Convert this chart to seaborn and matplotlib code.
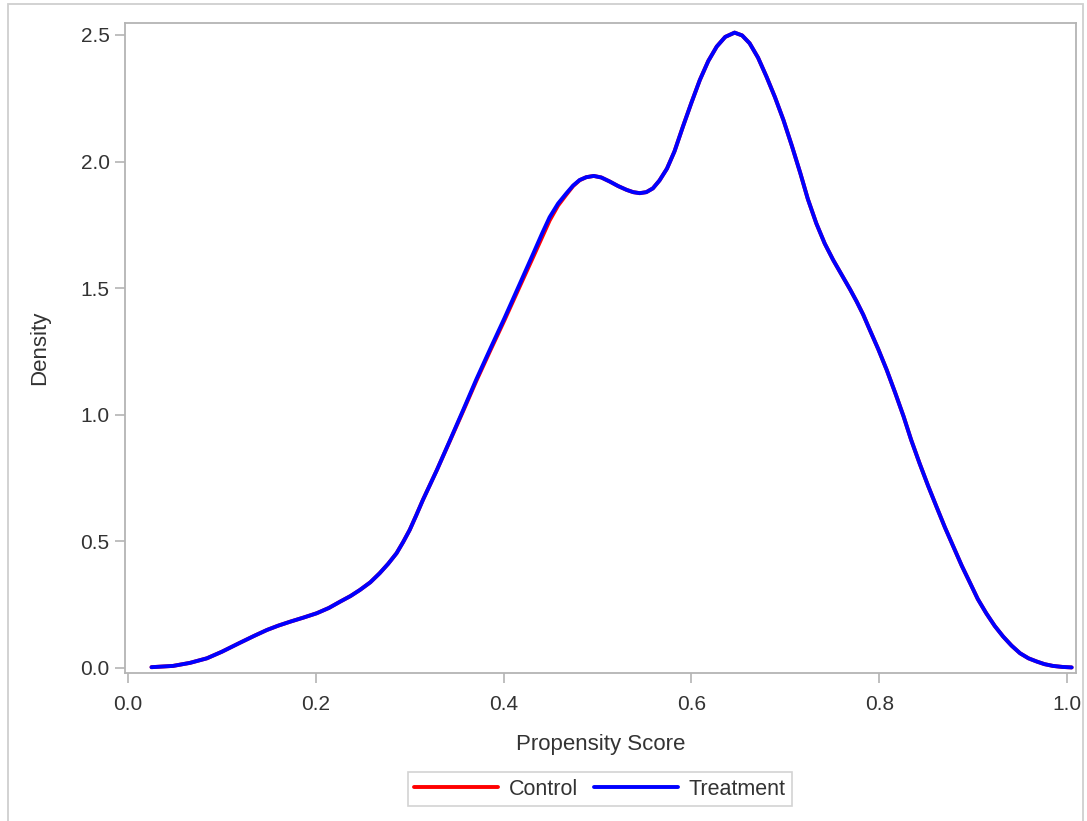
import matplotlib
matplotlib.use("Agg")
import matplotlib.pyplot as plt
import seaborn as sns
import pandas as pd
from matplotlib.patches import Rectangle
from matplotlib.lines import Line2D

# ---- data (kernel density curves) ----
treat_x = [0.025, 0.048, 0.066, 0.084, 0.100, 0.119, 0.134, 0.148, 0.160, 0.173,
           0.187, 0.201, 0.214, 0.226, 0.237, 0.247, 0.258, 0.268, 0.277, 0.286,
           0.293, 0.300, 0.307, 0.314, 0.329, 0.343, 0.357, 0.371, 0.386, 0.401,
           0.417, 0.432, 0.441, 0.449, 0.458, 0.467, 0.474, 0.481, 0.488, 0.496,
           0.504, 0.513, 0.522, 0.531, 0.538, 0.545, 0.552, 0.559, 0.566, 0.574,
           0.582, 0.591, 0.600, 0.609, 0.618, 0.627, 0.636, 0.646, 0.654, 0.662,
           0.671, 0.680, 0.689, 0.698, 0.707, 0.716, 0.724, 0.733, 0.742, 0.751,
           0.760, 0.769, 0.776, 0.783, 0.790, 0.799, 0.808, 0.817, 0.826, 0.834,
           0.843, 0.852, 0.861, 0.870, 0.879, 0.888, 0.897, 0.905, 0.914, 0.923,
           0.932, 0.941, 0.950, 0.959, 0.968, 0.976, 0.985, 0.995, 1.005]
treat_y = [0.003, 0.008, 0.020, 0.038, 0.064, 0.099, 0.126, 0.150, 0.167, 0.183,
           0.199, 0.216, 0.237, 0.262, 0.284, 0.308, 0.338, 0.374, 0.411, 0.453,
           0.497, 0.545, 0.603, 0.663, 0.782, 0.900, 1.019, 1.140, 1.262, 1.382,
           1.515, 1.640, 1.716, 1.780, 1.834, 1.875, 1.905, 1.927, 1.938, 1.943,
           1.937, 1.921, 1.903, 1.888, 1.879, 1.875, 1.879, 1.894, 1.925, 1.972,
           2.040, 2.138, 2.232, 2.322, 2.397, 2.454, 2.492, 2.509, 2.498, 2.467,
           2.410, 2.335, 2.254, 2.164, 2.062, 1.954, 1.852, 1.756, 1.676, 1.611,
           1.553, 1.495, 1.447, 1.395, 1.335, 1.259, 1.177, 1.087, 0.993, 0.901,
           0.808, 0.720, 0.637, 0.555, 0.479, 0.403, 0.334, 0.272, 0.216, 0.166,
           0.124, 0.088, 0.058, 0.038, 0.025, 0.015, 0.008, 0.004, 0.002]
ctrl_x = treat_x
ctrl_y = [0.003, 0.008, 0.020, 0.038, 0.064, 0.099, 0.126, 0.150, 0.167, 0.183,
          0.199, 0.216, 0.237, 0.262, 0.284, 0.308, 0.338, 0.374, 0.411, 0.453,
          0.497, 0.545, 0.603, 0.663, 0.782, 0.898, 1.015, 1.134, 1.255, 1.374,
          1.505, 1.627, 1.701, 1.767, 1.826, 1.870, 1.903, 1.926, 1.938, 1.943,
          1.937, 1.921, 1.903, 1.888, 1.879, 1.875, 1.879, 1.894, 1.925, 1.972,
          2.040, 2.138, 2.232, 2.322, 2.397, 2.454, 2.492, 2.509, 2.498, 2.467,
          2.410, 2.335, 2.254, 2.164, 2.062, 1.954, 1.852, 1.756, 1.676, 1.611,
          1.553, 1.495, 1.447, 1.395, 1.335, 1.259, 1.177, 1.087, 0.993, 0.901,
          0.808, 0.720, 0.637, 0.555, 0.479, 0.403, 0.334, 0.272, 0.216, 0.166,
          0.124, 0.088, 0.058, 0.038, 0.025, 0.015, 0.008, 0.004, 0.002]
groups = ["Control", "Treatment"]
colors = ["#ff0000", "#0000ff"]
x_ticks = [0.0, 0.2, 0.4, 0.6, 0.8, 1.0]
y_ticks = [0.0, 0.5, 1.0, 1.5, 2.0, 2.5]

df = pd.concat([
    pd.DataFrame({"x": ctrl_x, "y": ctrl_y, "group": groups[0]}),
    pd.DataFrame({"x": treat_x, "y": treat_y, "group": groups[1]}),
], ignore_index=True)

sns.set_theme(style="white")
plt.rcParams["font.family"] = ["Liberation Sans", "DejaVu Sans"]

W, H = 1087, 821
fig = plt.figure(figsize=(W / 100, H / 100), dpi=100)
ax = fig.add_axes([125 / W, 1 - 673 / H, (1076 - 125) / W, (673 - 23) / H])

sns.lineplot(data=df, x="x", y="y", hue="group", palette=dict(zip(groups, colors)),
             estimator=None, sort=False, linewidth=2.8, ax=ax, legend=False)
for ln in ax.get_lines():
    ln.set_solid_joinstyle("round")
    ln.set_solid_capstyle("round")

ax.set_xlim(-0.0032, 1.0096)
ax.set_ylim(-0.02, 2.547)
ax.set_xticks(x_ticks)
ax.set_yticks(y_ticks)
ax.set_xticklabels([f"{v:.1f}" for v in x_ticks])
ax.set_yticklabels([f"{v:.1f}" for v in y_ticks])

txt = "#333333"
edge = "#b4b4b4"
for s in ax.spines.values():
    s.set_color(edge)
    s.set_linewidth(1.3)
ax.tick_params(axis="both", which="major", direction="out", length=7, width=1.2,
               color=edge, labelsize=15, labelcolor=txt,
               bottom=True, left=True)
ax.tick_params(axis="x", pad=9)
ax.tick_params(axis="y", pad=4)
ax.set_xlabel("Propensity Score", fontsize=16, color=txt, labelpad=14)
ax.set_ylabel("Density", fontsize=16, color=txt, labelpad=22)

handles = [Line2D([], [], color=c, lw=2.8) for c in colors]
leg = fig.legend(handles, groups, loc="center", bbox_to_anchor=(600 / W, 1 - 789 / H),
                 ncol=2, frameon=True, fancybox=False, fontsize=15.5,
                 handlelength=3.9, handletextpad=0.5, columnspacing=0.75,
                 borderpad=0.3, borderaxespad=0)
leg.get_frame().set_edgecolor("#c8c8c8")
leg.get_frame().set_linewidth(1.2)
for t in leg.get_texts():
    t.set_color(txt)

# outer border of the graph
fig.patches.append(Rectangle((8 / W, -0.01), (1083 - 8) / W, 1 - 4 / H + 0.01,
                             transform=fig.transFigure, fill=False,
                             edgecolor="#cfcfcf", linewidth=1.3))

fig.savefig("out.png", dpi=100)
